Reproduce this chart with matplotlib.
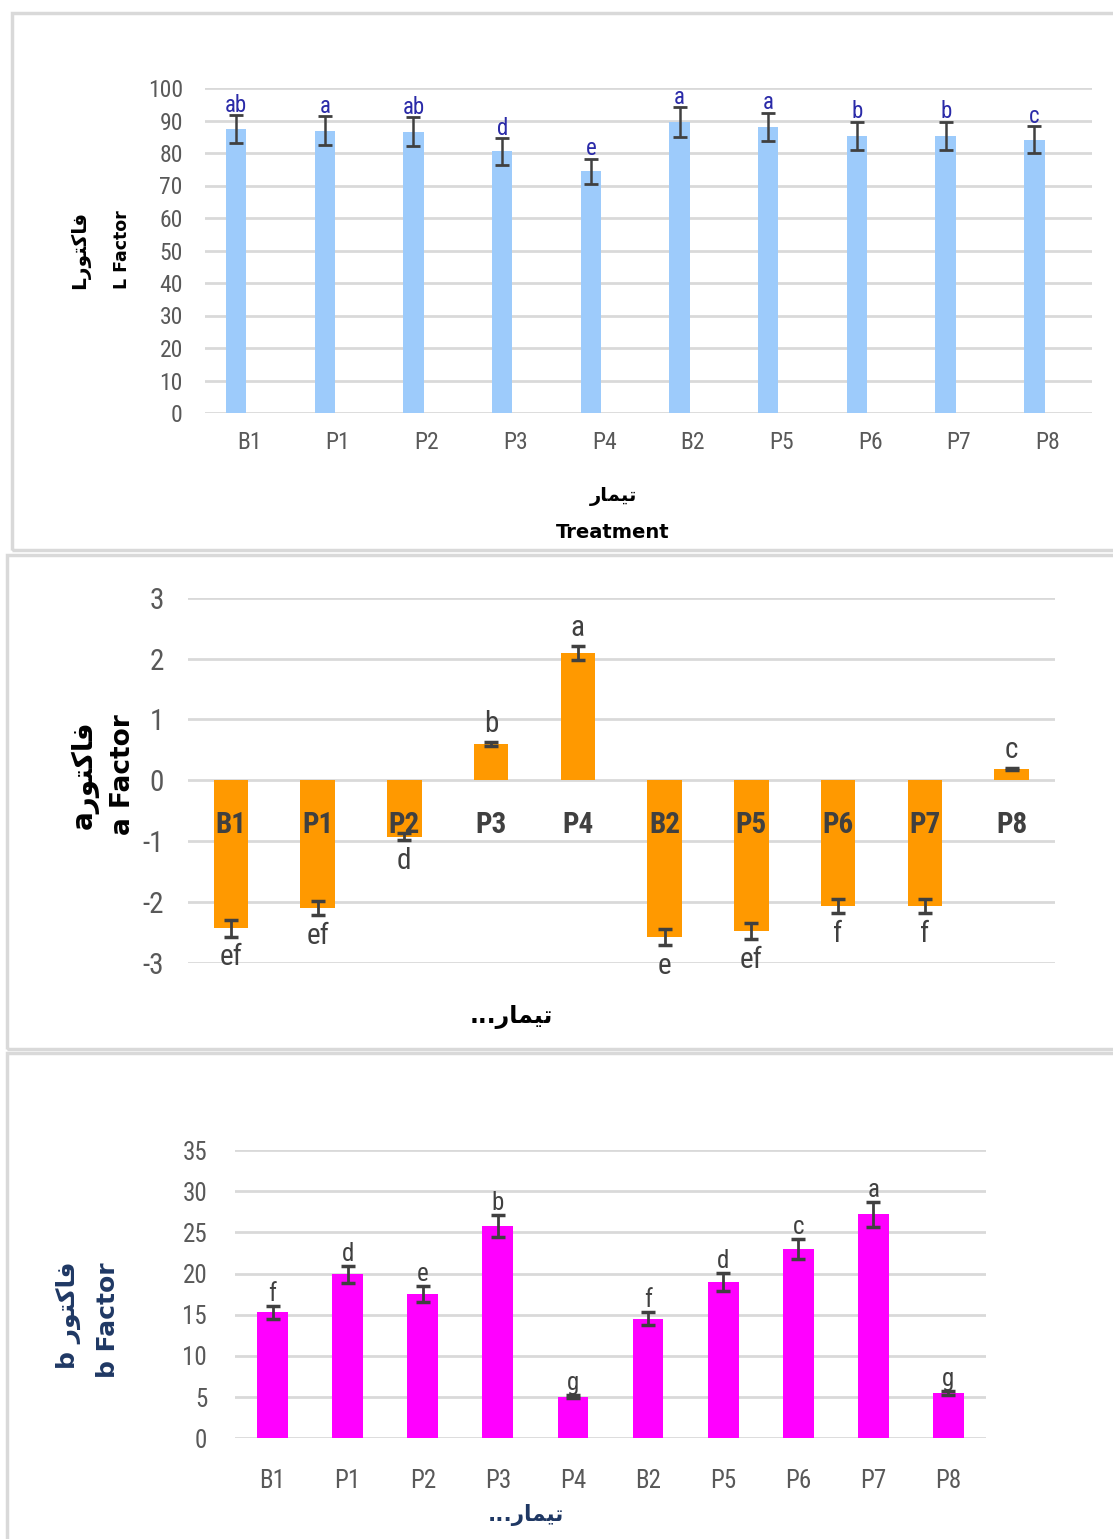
import matplotlib
matplotlib.use("Agg")
import matplotlib.pyplot as plt
from matplotlib import font_manager as fm
from matplotlib.patches import Rectangle
import numpy as np

plt.rcParams['axes.unicode_minus'] = False

# ---------------- data ----------------
cats = ['B1', 'P1', 'P2', 'P3', 'P4', 'B2', 'P5', 'P6', 'P7', 'P8']

L_vals = [87.3, 86.9, 86.6, 80.5, 74.4, 89.5, 88.1, 85.2, 85.2, 84.1]
L_err = [4.35, 4.4, 4.35, 4.05, 3.85, 4.55, 4.35, 4.4, 4.4, 4.15]
L_letters = ['ab', 'a', 'ab', 'd', 'e', 'a', 'a', 'b', 'b', 'c']

a_vals = [-2.43, -2.10, -0.93, 0.60, 2.09, -2.58, -2.48, -2.07, -2.07, 0.18]
a_err = [0.14, 0.11, 0.06, 0.03, 0.11, 0.13, 0.13, 0.12, 0.12, 0.02]
a_letters = ['ef', 'ef', 'd', 'b', 'a', 'e', 'ef', 'f', 'f', 'c']

b_vals = [15.3, 19.9, 17.5, 25.75, 5.05, 14.5, 18.95, 22.95, 27.2, 5.5]
b_err = [0.8, 1.05, 1.0, 1.35, 0.2, 0.8, 1.1, 1.2, 1.5, 0.2]
b_letters = ['f', 'd', 'e', 'b', 'g', 'f', 'd', 'c', 'a', 'g']

# Persian words in visual (shaped) order
FAKTOR = "\uFEAD\uFEEE\uFE98\uFB90\uFE8E\uFED3"   # فاکتور
TEYMAR = "\uFEAD\uFE8E\uFEE4\uFBFF\uFE97"         # تیمار

names = {f.name for f in fm.fontManager.ttflist}
NARROW = 'DejaVu Sans'
for cand in ['Liberation Sans Narrow', 'Roboto Condensed', 'Roboto']:
    if cand in names:
        NARROW = cand
        break
AR = ['DejaVu Sans']

W, H = 1113, 1539
fig = plt.figure(figsize=(W / 100, H / 100), dpi=100)

def fx(px):
    return px / W

def fy(py):
    return 1 - py / H

GRID = '#d9d9d9'
ERRC = '#404040'
TICKC = '#595959'

# panel frames
for (x0, y0, x1, y1) in [(12, 13, 1125, 550), (7, 555, 1125, 1049), (7, 1053, 1125, 1550)]:
    fig.add_artist(Rectangle((fx(x0), fy(y1)), fx(x1 - x0), (y1 - y0) / H,
                             transform=fig.transFigure, fill=False, ec=GRID, lw=2.5))

x = np.arange(len(cats))

def style(ax):
    for s in ax.spines.values():
        s.set_visible(False)
    ax.yaxis.grid(True, color=GRID, lw=2)
    ax.set_axisbelow(True)
    ax.tick_params(length=0)

# ---------------- panel 1 : L factor ----------------
ax1 = fig.add_axes([fx(205), fy(413), fx(887), 325 / H])
style(ax1)
ax1.bar(x - 0.15, L_vals, width=0.23, color='#9dcbfb', zorder=2)
ax1.errorbar(x - 0.15, L_vals, yerr=L_err, fmt='none', ecolor=ERRC, elinewidth=1.8,
             capsize=5, capthick=2, zorder=3)
for xi, v, e, t in zip(x, L_vals, L_err, L_letters):
    ax1.annotate(t, (xi - 0.15, v + e), xytext=(0, -1), textcoords='offset points',
                 ha='center', va='bottom', fontsize=16.5, color='#2a2aa8', family=NARROW)
ax1.set_xlim(-0.5, 9.5)
ax1.set_ylim(0, 100)
ax1.set_yticks(np.arange(0, 101, 10))
ax1.set_xticks(x)
ax1.set_xticklabels(cats)
ax1.tick_params(axis='y', pad=16, labelsize=17, labelcolor=TICKC)
ax1.tick_params(axis='x', pad=13, labelsize=17, labelcolor=TICKC)
for lab in ax1.get_yticklabels() + ax1.get_xticklabels():
    lab.set_family(NARROW)

fig.text(fx(80), fy(250), "L" + FAKTOR, rotation=90, ha='center', va='center',
         fontsize=14.5, fontweight='bold', family=AR, color='black')
fig.text(fx(122), fy(250), "L Factor", rotation=90, ha='center', va='center',
         fontsize=12.5, fontweight='bold', color='black')
fig.text(fx(613), fy(496), TEYMAR, ha='center', va='center', fontsize=14,
         fontweight='bold', family=AR, color='black')
fig.text(fx(613), fy(532), "Treatment", ha='center', va='center', fontsize=14,
         fontweight='bold', color='black')

# ---------------- panel 2 : a factor ----------------
ax2 = fig.add_axes([fx(187.5), fy(962.7), fx(867.5), 365 / H])
style(ax2)
ax2.bar(x, a_vals, width=0.4, color='#ff9900', zorder=2)
ax2.errorbar(x, a_vals, yerr=a_err, fmt='none', ecolor=ERRC, elinewidth=2,
             capsize=5, capthick=2.5, zorder=3)
for xi, v, e, t in zip(x, a_vals, a_err, a_letters):
    if v >= 0:
        ax2.annotate(t, (xi, v + e), xytext=(0, 3), textcoords='offset points',
                     ha='center', va='bottom', fontsize=21, color=ERRC, family=NARROW)
    else:
        ax2.annotate(t, (xi, v - e), xytext=(0, -5), textcoords='offset points',
                     ha='center', va='top', fontsize=21, color=ERRC, family=NARROW)
for xi, c in zip(x, cats):
    ax2.text(xi, -0.74, c, ha='center', va='center', fontsize=21, fontweight='bold',
             color=ERRC, family=NARROW, zorder=4)
ax2.set_xlim(-0.5, 9.5)
ax2.set_ylim(-3, 3)
ax2.set_yticks(np.arange(-3, 4, 1))
ax2.set_xticks([])
ax2.tick_params(axis='y', pad=17, labelsize=21, labelcolor=TICKC)
for lab in ax2.get_yticklabels():
    lab.set_family(NARROW)

fig.text(fx(85), fy(775), "a" + FAKTOR, rotation=90, ha='center', va='center',
         fontsize=20, fontweight='bold', family=AR, color='black')
fig.text(fx(123), fy(775), "a Factor", rotation=90, ha='center', va='center',
         fontsize=19, fontweight='bold', color='black')
fig.text(fx(511), fy(1017), "..." + TEYMAR, ha='center', va='center', fontsize=17,
         fontweight='bold', family=AR, color='black')

# ---------------- panel 3 : b factor ----------------
ax3 = fig.add_axes([fx(235), fy(1438.3), fx(751), 288.3 / H])
style(ax3)
ax3.bar(x, b_vals, width=0.41, color='#ff00ff', zorder=2)
ax3.errorbar(x, b_vals, yerr=b_err, fmt='none', ecolor=ERRC, elinewidth=2,
             capsize=5, capthick=2.5, zorder=3)
for xi, v, e, t in zip(x, b_vals, b_err, b_letters):
    ax3.annotate(t, (xi, v + e), xytext=(0, 0), textcoords='offset points',
                 ha='center', va='bottom', fontsize=18, color=ERRC, family=NARROW)
ax3.set_xlim(-0.5, 9.5)
ax3.set_ylim(0, 35)
ax3.set_yticks(np.arange(0, 36, 5))
ax3.set_xticks(x)
ax3.set_xticklabels(cats)
ax3.tick_params(axis='y', pad=20, labelsize=18, labelcolor=TICKC)
ax3.tick_params(axis='x', pad=22, labelsize=18, labelcolor=TICKC)
for lab in ax3.get_yticklabels() + ax3.get_xticklabels():
    lab.set_family(NARROW)

BLUE = '#1f3864'
fig.text(fx(68), fy(1315), "b " + FAKTOR, rotation=90, ha='center', va='center',
         fontsize=18, fontweight='bold', family=AR, color=BLUE)
fig.text(fx(108), fy(1320), "b Factor", rotation=90, ha='center', va='center',
         fontsize=18, fontweight='bold', color=BLUE)
fig.text(fx(526), fy(1515), "..." + TEYMAR, ha='center', va='center', fontsize=15.5,
         fontweight='bold', family=AR, color=BLUE)

fig.savefig('out.png', dpi=100)
